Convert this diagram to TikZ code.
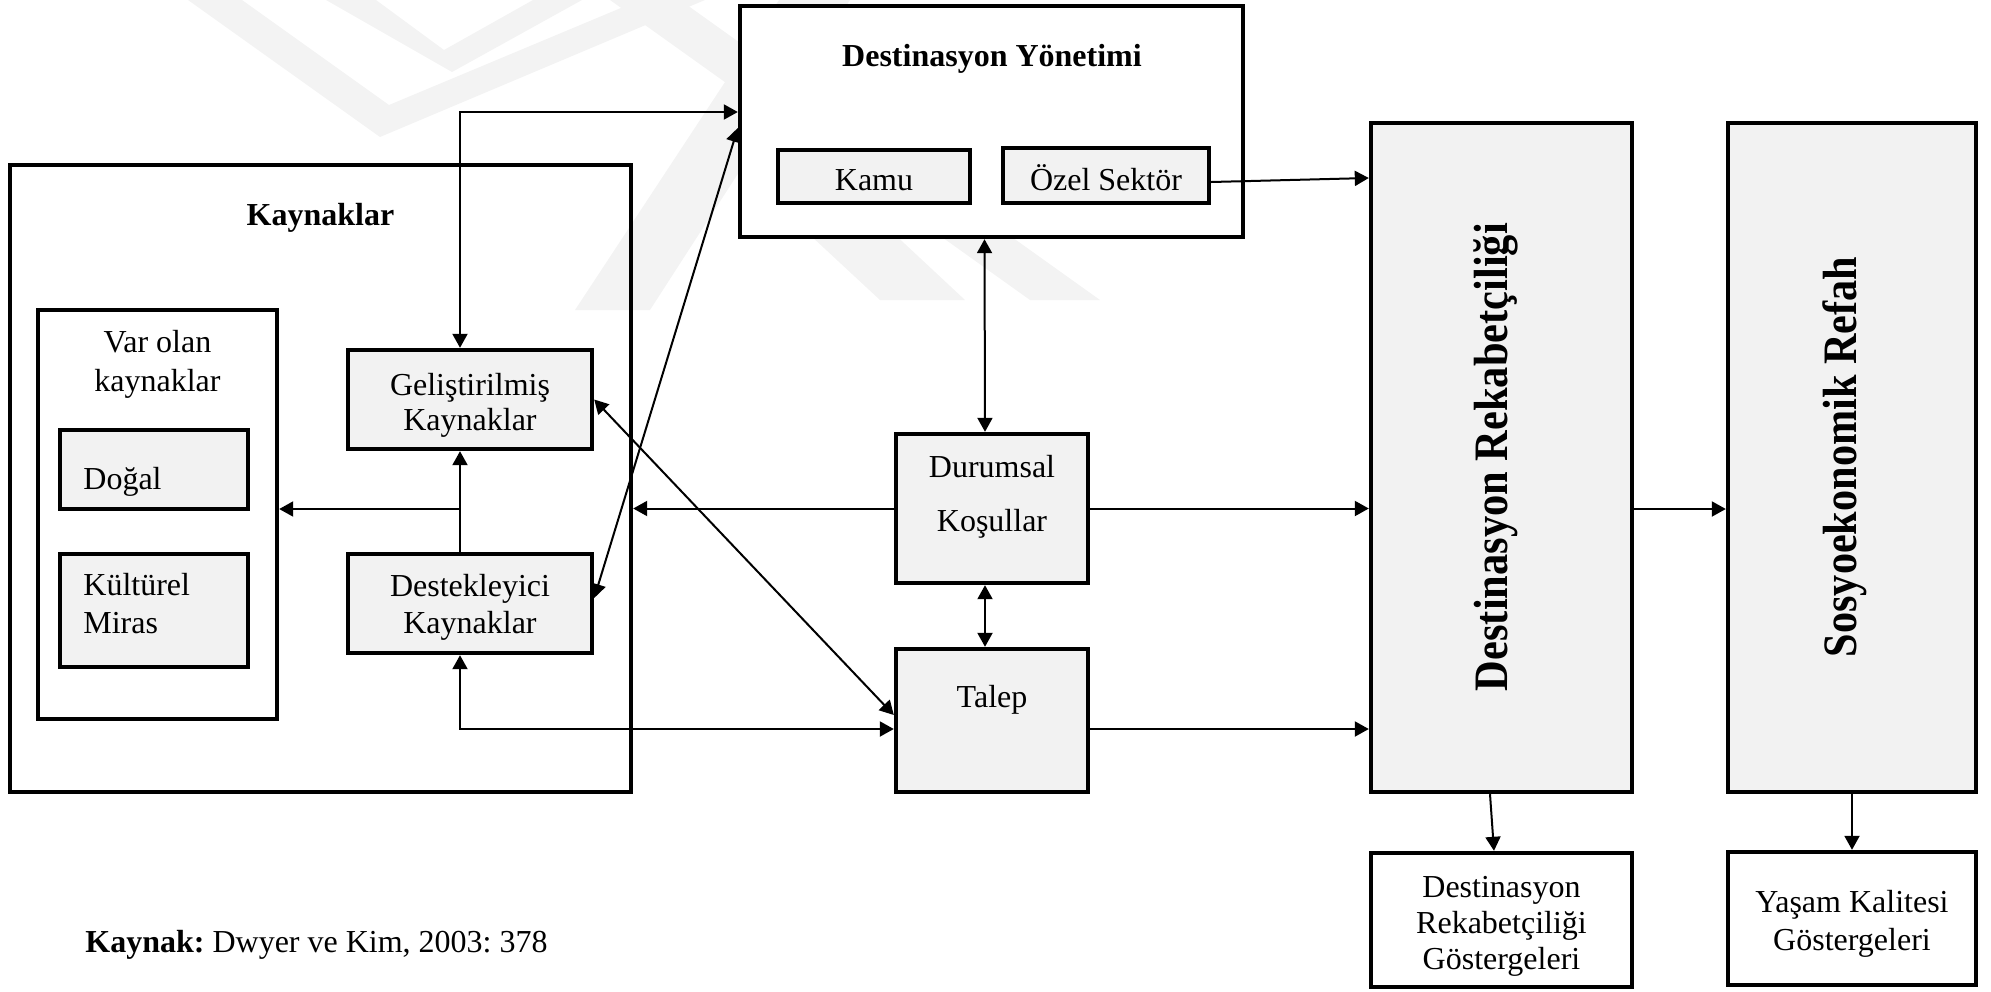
\documentclass[tikz,border=0pt]{standalone}
\usepackage{fontspec}
\setmainfont{Liberation Serif}
\usetikzlibrary{arrows.meta,calc}
\definecolor{boxgrey}{HTML}{F2F2F2}
\definecolor{markgrey}{HTML}{F3F3F3}
\frenchspacing
% stacked lines whose base is the baseline of the first row
\newcommand{\rows}[2][c]{\begin{tabular}[t]{@{}#1@{}}#2\end{tabular}}

\begin{document}
\begin{tikzpicture}[x=0.5pt,y=-0.5pt,
  every node/.style={font=\fontsize{16}{18.5}\selectfont, inner sep=0pt},
  plainbox/.style={draw, rectangle, line width=2.2pt},
  whitebox/.style={plainbox, fill=white},
  shadebox/.style={plainbox, fill=boxgrey},
  lbl/.style={anchor=base},
  lblw/.style={anchor=base west},
  boldlbl/.style={anchor=base, font=\fontsize{16}{18.5}\selectfont\bfseries},
  wmband/.style={fill=markgrey},
  tip/.tip={Triangle[length=7pt,width=7.5pt]},
  conn/.style={line width=1pt, -tip},
  biconn/.style={line width=1pt, tip-tip}]

\useasboundingbox (0,0) rectangle (1991,991);

% faint emblem in the background
\fill[wmband] (188,0) -- (380,137) -- (705,0) -- (640,0) -- (389,105) -- (242,0) -- cycle;
\fill[wmband] (326,0) -- (452,72) -- (582,0) -- (533,0) -- (444,50) -- (376,0) -- cycle;
\fill[wmband] (610,0) -- (680,0) -- (1100,300) -- (1030,300) -- cycle;
\fill[wmband] (740,90) -- (965,300) -- (880,300) -- (740,170) -- cycle;
\fill[wmband] (779,0) -- (850,0) -- (650,310) -- (575,310) -- cycle;

% resources block
\node[plainbox, minimum width={(631-10)*0.5pt}, minimum height={(792-165)*0.5pt}] (k) at ({(10+631)/2},{(165+792)/2}) {};
\node[whitebox, minimum width={(277-38)*0.5pt}, minimum height={(719-310)*0.5pt}] (varolan) at ({(38+277)/2},{(310+719)/2}) {};
\node[shadebox, minimum width={(248-60)*0.5pt}, minimum height={(509-430)*0.5pt}] (dogal) at ({(60+248)/2},{(430+509)/2}) {};
\node[shadebox, minimum width={(248-60)*0.5pt}, minimum height={(667-554)*0.5pt}] (kultur) at ({(60+248)/2},{(554+667)/2}) {};
\node[shadebox, minimum width={(592-348)*0.5pt}, minimum height={(449-350)*0.5pt}] (gel) at ({(348+592)/2},{(350+449)/2}) {};
\node[shadebox, minimum width={(592-348)*0.5pt}, minimum height={(653-554)*0.5pt}] (des) at ({(348+592)/2},{(554+653)/2}) {};

% destination management
\node[whitebox, minimum width={(1243-740)*0.5pt}, minimum height={(237-6)*0.5pt}] (dy) at ({(740+1243)/2},{(6+237)/2}) {};
\node[shadebox, minimum width={(970-778)*0.5pt}, minimum height={(203-150)*0.5pt}] (kamu) at ({(778+970)/2},{(150+203)/2}) {};
\node[shadebox, minimum width={(1209-1003)*0.5pt}, minimum height={(203-148)*0.5pt}] (ozel) at ({(1003+1209)/2},{(148+203)/2}) {};

% conditions and demand
\node[shadebox, minimum width={(1088-896)*0.5pt}, minimum height={(583-434)*0.5pt}] (dur) at ({(896+1088)/2},{(434+583)/2}) {};
\node[shadebox, minimum width={(1088-896)*0.5pt}, minimum height={(792-649)*0.5pt}] (talep) at ({(896+1088)/2},{(649+792)/2}) {};

% outcome columns and indicators
\node[shadebox, minimum width={(1632-1371)*0.5pt}, minimum height={(792-123)*0.5pt}] (dr) at ({(1371+1632)/2},{(123+792)/2}) {};
\node[shadebox, minimum width={(1976-1728)*0.5pt}, minimum height={(792-123)*0.5pt}] (sr) at ({(1728+1976)/2},{(123+792)/2}) {};
\node[whitebox, minimum width={(1632-1371)*0.5pt}, minimum height={(987-853)*0.5pt}] (drg) at ({(1371+1632)/2},{(853+987)/2}) {};
\node[whitebox, minimum width={(1976-1728)*0.5pt}, minimum height={(985-852)*0.5pt}] (yk) at ({(1728+1976)/2},{(852+985)/2}) {};

% labels
\node[boldlbl] (dyT) at (992,66) {Destinasyon Yönetimi};
\node[boldlbl] (kT) at (320.5,225) {Kaynaklar};
\node[lbl] (kamuT) at (874,190) {Kamu};
\node[lbl] (ozelT) at (1106,190) {Özel Sektör};
\node[lbl] (varT) at (157.5,352) {\rows{Var olan\\[1pt]kaynaklar}};
\node[lblw] (dogalT) at (83,489) {Doğal};
\node[lblw] (kulturT) at (83,595) {\rows[l]{Kültürel\\[0.5pt]Miras}};
\node[lbl] (gelT) at (470,395) {\rows{Geliştirilmiş\\[-1pt]Kaynaklar}};
\node[lbl] (desT) at (470,596) {\rows{Destekleyici\\Kaynaklar}};
\node[lbl] (durT) at (992,477) {\rows{Durumsal\\[8.5pt]Koşullar}};
\node[lbl] (talepT) at (992,707) {Talep};
\node[lbl] (drgT) at (1501.5,897) {\rows{Destinasyon\\[-0.5pt]Rekabetçiliği\\[-0.5pt]Göstergeleri}};
\node[lbl] (ykT) at (1852,912) {\rows{Yaşam Kalitesi\\[0.5pt]Göstergeleri}};
\node[rotate=90, anchor=base] (drT) at (1507,457)
  {\resizebox{234pt}{\height}{\fontsize{24}{28}\selectfont\bfseries Destinasyon Rekabetçiliği}};
\node[rotate=90, anchor=base] (srT) at (1856,457)
  {\resizebox{200pt}{\height}{\fontsize{24}{28}\selectfont\bfseries Sosyoekonomik Refah}};
\node[lblw] (src) at (85,952) {\textbf{Kaynak:} Dwyer ve Kim, 2003: 378};

% connectors
\coordinate (jn) at (460,509);
\draw[biconn] ([xshift=-5pt]gel.north) |- ([yshift=4.75pt]dy.west);
\draw[biconn] ([yshift=-3.25pt]dy.west) -- ([yshift=2.75pt]des.east);
\draw[biconn] (gel.east) -- ([yshift=2.75pt]talep.west);
\draw[conn] ([xshift=-5pt]des.north) -- ([xshift=-5pt]gel.south);
\draw[conn] (jn) -- (jn -| varolan.east);
\draw[biconn] ([xshift=-5pt]des.south) |- ([yshift=-4.25pt]talep.west);
\draw[conn] (dur.west) -- (dur.west -| k.east);
\draw[biconn] ([xshift=-3.5pt]dy.south) -- ([xshift=-3.5pt]dur.north);
\draw[biconn] ([xshift=-3.5pt]dur.south) -- ([xshift=-3.5pt]talep.north);
\draw[conn] (dur.east) -- (dur.east -| dr.west);
\draw[conn] ([yshift=-4.25pt]talep.east) -- ([yshift=-4.25pt]talep.east -| dr.west);
\draw[conn] ([yshift=-3.25pt]ozel.east) -- ([yshift=139.75pt]dr.west);
\draw[conn] ([yshift=-25.75pt]dr.east) -- ([yshift=-25.75pt]sr.west);
\draw[conn] ([xshift=-5.75pt]dr.south) -- ([xshift=-3.75pt]drg.north);
\draw[conn] (sr.south) -- (yk.north);
\end{tikzpicture}
\end{document}
